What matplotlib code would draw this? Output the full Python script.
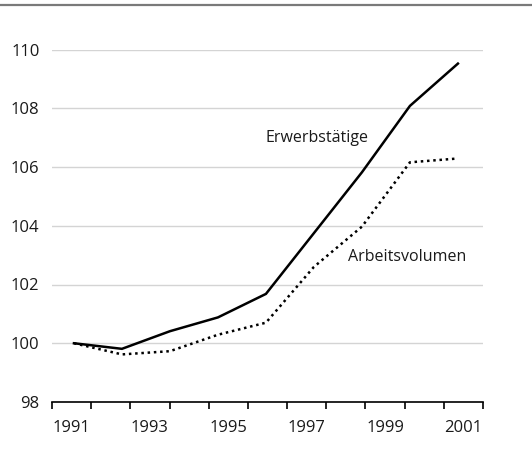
"""Erwerbstätige und Arbeitsvolumen, Index 1991 = 100."""
import matplotlib
matplotlib.use("Agg")
import matplotlib.pyplot as plt
from matplotlib.lines import Line2D
import numpy as np

years = [1991, 1992, 1993, 1994, 1995, 1996, 1997, 1998, 1999, 2000, 2001]
year_labels = ["1991", "1993", "1995", "1997", "1999", "2001"]
erwerbstaetige = [100.0, 99.81, 100.41, 100.88, 101.68, 103.75, 105.82, 108.08, 109.52]
arbeitsvolumen = [100.0, 99.62, 99.73, 100.29, 100.70, 102.6, 103.97, 106.16, 106.29]

plt.rcParams["font.family"] = ["Open Sans", "DejaVu Sans"]

fig = plt.figure(figsize=(5.32, 4.68), dpi=100)
ax = fig.add_axes([52 / 532, 1 - 402 / 468, (483 - 52) / 532, (402 - 49.5) / 468])

# the series points are spread evenly over the year axis
pos = np.linspace(1991.06, 2000.86, len(erwerbstaetige))
ax.plot(pos, erwerbstaetige, color="black", lw=1.8, solid_joinstyle="miter")
ax.plot(pos, arbeitsvolumen, color="black", lw=1.8, linestyle=(0, (1, 1.5)), dash_capstyle="butt")

ax.set_xlim(years[0] - 0.5, years[-1] + 0.5)
ax.set_ylim(98, 110)
ax.set_yticks(range(98, 111, 2))
ax.yaxis.grid(True, color="#d4d4d4", lw=1.0)
ax.set_axisbelow(True)
ax.tick_params(axis="y", length=0, pad=9, labelsize=12, labelcolor="#1a1a1a")

edges = [y - 0.5 for y in years] + [years[-1] + 0.5]
ax.set_xticks(edges)
ax.set_xticklabels([])
ax.set_xticks([int(s) for s in year_labels], minor=True)
ax.set_xticklabels(year_labels, minor=True)
ax.tick_params(axis="x", which="major", length=5, width=1.2, direction="out", color="black")
ax.tick_params(axis="x", which="minor", length=0, pad=13, labelsize=12, labelcolor="#1a1a1a")

for side in ("top", "right", "left"):
    ax.spines[side].set_visible(False)
ax.spines["bottom"].set_linewidth(1.2)

ax.text(1995.95, 106.98, "Erwerbstätige", fontsize=11.5, color="#1a1a1a", va="center", ha="left")
ax.text(1998.06, 102.95, "Arbeitsvolumen", fontsize=11.5, color="#1a1a1a", va="center", ha="left")

fig.add_artist(Line2D([0, 1], [1 - 5 / 468, 1 - 5 / 468], color="#7a7a7a", lw=1.6,
                      transform=fig.transFigure))

fig.savefig("out.png", dpi=100)
